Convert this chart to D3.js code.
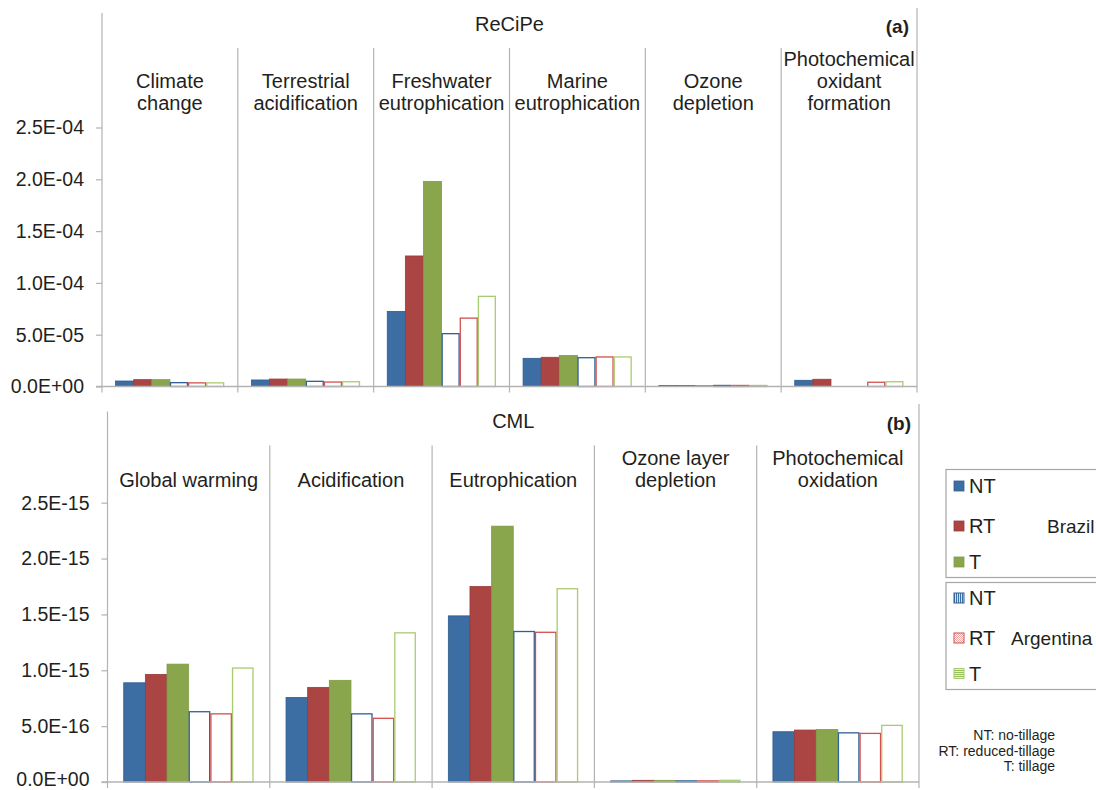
<!DOCTYPE html>
<html>
<head>
<meta charset="utf-8">
<script src="https://cdn.jsdelivr.net/npm/d3@7"></script>
<style>
  html, body { margin: 0; padding: 0; background: #fff; }
  svg text { font-family: "Liberation Sans", Arial, sans-serif; fill: #231f20; }
</style>
</head>
<body>
<svg id="chart" width="1096" height="790"></svg>
<script>
// ---------- DATA ----------
const seriesNames = ["NT Brazil", "RT Brazil", "T Brazil", "NT Argentina", "RT Argentina", "T Argentina"];

// Panel (a) ReCiPe
const recipeCategories = [
  ["Climate", "change"],
  ["Terrestrial", "acidification"],
  ["Freshwater", "eutrophication"],
  ["Marine", "eutrophication"],
  ["Ozone", "depletion"],
  ["Photochemical", "oxidant", "formation"]
];
const recipeBrNT = [5.3e-6, 6.3e-6, 7.25e-5, 2.72e-5, 1.0e-6, 6.0e-6];
const recipeBrRT = [6.6e-6, 7.2e-6, 1.26e-4, 2.82e-5, 1.0e-6, 7.0e-6];
const recipeBrT  = [6.6e-6, 7.2e-6, 1.98e-4, 3.0e-5, 1.0e-6, 0];
const recipeArNT = [3.7e-6, 5.0e-6, 5.1e-5, 2.78e-5, 1.0e-6, 0];
const recipeArRT = [3.5e-6, 4.3e-6, 6.6e-5, 2.85e-5, 1.0e-6, 4.1e-6];
const recipeArT  = [3.5e-6, 4.6e-6, 8.7e-5, 2.85e-5, 1.0e-6, 4.6e-6];
const recipeTicks = [0, 5e-5, 1e-4, 1.5e-4, 2e-4, 2.5e-4];
const recipeTickLabels = ["0.0E+00", "5.0E-05", "1.0E-04", "1.5E-04", "2.0E-04", "2.5E-04"];

// Panel (b) CML
const cmlCategories = [
  ["Global warming"],
  ["Acidification"],
  ["Eutrophication"],
  ["Ozone layer", "depletion"],
  ["Photochemical", "oxidation"]
];
const cmlBrNT = [8.88e-16, 7.57e-16, 1.487e-15, 1.0e-17, 4.5e-16];
const cmlBrRT = [9.63e-16, 8.47e-16, 1.75e-15, 1.5e-17, 4.65e-16];
const cmlBrT  = [1.055e-15, 9.1e-16, 2.29e-15, 1.5e-17, 4.7e-16];
const cmlArNT = [6.29e-16, 6.1e-16, 1.347e-15, 1.0e-17, 4.4e-16];
const cmlArRT = [6.1e-16, 5.7e-16, 1.34e-15, 1.0e-17, 4.35e-16];
const cmlArT  = [1.02e-15, 1.335e-15, 1.73e-15, 1.5e-17, 5.07e-16];
const cmlTicks = [0, 5e-16, 1e-15, 1.5e-15, 2e-15, 2.5e-15];
const cmlTickLabels = ["0.0E+00", "5.0E-16", "1.0E-15", "1.5E-15", "2.0E-15", "2.5E-15"];

const legendBrazil = ["NT", "RT", "T"];
const legendArgentina = ["NT", "RT", "T"];
const footnotes = ["NT: no-tillage", "RT: reduced-tillage", "T: tillage"];

// ---------- STYLE ----------
const fills   = ["#3d6ea3", "#aa4543", "#8aa64c", "#ffffff", "#ffffff", "#ffffff"];
const strokes = ["#2d5c8f", "#9c3b39", "#7f9c44", "#2f6096", "#d2504d", "#a9cb6f"];
const gridCol = "#b3b3b3";

const svg = d3.select("#chart");
const defs = svg.append("defs");

// patterns for Argentina legend swatches
const pV = defs.append("pattern").attr("id", "pNT").attr("width", 2).attr("height", 2).attr("patternUnits", "userSpaceOnUse");
pV.append("rect").attr("width", 2).attr("height", 2).attr("fill", "#cfe0f3");
pV.append("rect").attr("width", 1).attr("height", 2).attr("fill", "#3d6ea3");
const pD = defs.append("pattern").attr("id", "pRT").attr("width", 2).attr("height", 2).attr("patternUnits", "userSpaceOnUse");
pD.append("rect").attr("width", 2).attr("height", 2).attr("fill", "#ffffff");
pD.append("rect").attr("width", 1).attr("height", 1).attr("fill", "#e8a4a2");
pD.append("rect").attr("x", 1).attr("y", 1).attr("width", 1).attr("height", 1).attr("fill", "#e8a4a2");
const pH = defs.append("pattern").attr("id", "pT").attr("width", 2).attr("height", 2).attr("patternUnits", "userSpaceOnUse");
pH.append("rect").attr("width", 2).attr("height", 2).attr("fill", "#e3efcf");
pH.append("rect").attr("width", 2).attr("height", 1).attr("fill", "#9bbf5e");

function drawPanel(cfg) {
  const g = svg.append("g");
  const x = d3.scaleBand().domain(cfg.categories.map((d, i) => i)).range([cfg.x0, cfg.x1]).padding(0);
  const y = d3.scaleLinear().domain([0, cfg.ticks[cfg.ticks.length - 1]]).range([cfg.y0, cfg.yTop]);
  const xi = d3.scaleBand().domain(seriesNames).range([x.bandwidth() * 0.1, x.bandwidth() * 0.9]).padding(0);

  // left axis line, right border
  g.append("line").attr("x1", cfg.x0).attr("x2", cfg.x0).attr("y1", cfg.axisTop).attr("y2", cfg.y0 + 6)
    .attr("stroke", gridCol).attr("stroke-width", 1.2);
  g.append("line").attr("x1", cfg.x1).attr("x2", cfg.x1).attr("y1", cfg.rightTop).attr("y2", cfg.y0 + 6)
    .attr("stroke", gridCol).attr("stroke-width", 1.2);

  // category dividers
  cfg.categories.forEach((c, i) => {
    if (i === 0) return;
    g.append("line").attr("x1", x(i)).attr("x2", x(i)).attr("y1", cfg.divTop).attr("y2", cfg.y0 + 6)
      .attr("stroke", gridCol).attr("stroke-width", 1.2);
  });

  // y axis ticks
  const ax = d3.axisLeft(y).tickValues(cfg.ticks).tickSize(6).tickPadding(12)
    .tickFormat((d, i) => cfg.tickLabels[i]);
  const axG = g.append("g").attr("transform", `translate(${cfg.x0},0)`).call(ax);
  axG.select(".domain").remove();
  axG.selectAll(".tick line").attr("stroke", gridCol).attr("stroke-width", 1.2);
  axG.selectAll(".tick text").attr("font-size", 19.5).attr("fill", "#231f20")
    .attr("dy", (d, i) => (cfg.zeroDy != null && i === 0) ? cfg.zeroDy : "0.33em")
    .attr("font-family", '"Liberation Sans", Arial, sans-serif');

  // bars
  cfg.categories.forEach((c, i) => {
    cfg.series.forEach((vals, s) => {
      const v = vals[i];
      if (!v) return;
      const top = y(v);
      const h = Math.max(cfg.y0 - top, 0.8);
      const filled = s < 3;
      g.append("rect")
        .attr("x", x(i) + xi(seriesNames[s]) + (filled ? 0 : 0.6))
        .attr("y", cfg.y0 - h)
        .attr("width", xi.bandwidth() - (filled ? 0 : 1.2))
        .attr("height", h)
        .attr("fill", fills[s])
        .attr("stroke", strokes[s])
        .attr("stroke-width", filled ? 0.8 : 1.3);
    });
  });

  // zero baseline
  g.append("line").attr("x1", cfg.x0 - 6).attr("x2", cfg.x1).attr("y1", cfg.y0).attr("y2", cfg.y0)
    .attr("stroke", gridCol).attr("stroke-width", 1.4);

  // category labels (bottom aligned)
  cfg.categories.forEach((lines, i) => {
    const cx = x(i) + x.bandwidth() / 2;
    lines.forEach((t, k) => {
      g.append("text").attr("x", cx).attr("y", cfg.labelBase - (lines.length - 1 - k) * 22)
        .attr("text-anchor", "middle").attr("font-size", 20).text(t);
    });
  });

  // title & panel letter
  g.append("text").attr("x", (cfg.x0 + cfg.x1) / 2).attr("y", cfg.titleY).attr("text-anchor", "middle")
    .attr("font-size", 20).text(cfg.title);
  g.append("text").attr("x", cfg.x1 - 8).attr("y", cfg.titleY + 2).attr("text-anchor", "end")
    .attr("font-size", 19).attr("font-weight", "bold").text(cfg.letter);
}

drawPanel({
  categories: recipeCategories,
  series: [recipeBrNT, recipeBrRT, recipeBrT, recipeArNT, recipeArRT, recipeArT],
  ticks: recipeTicks, tickLabels: recipeTickLabels,
  x0: 102, x1: 917, y0: 386.5, yTop: 127.5,
  axisTop: 13, rightTop: 8, divTop: 48,
  labelBase: 110, titleY: 31, title: "ReCiPe", letter: "(a)"
});

drawPanel({
  categories: cmlCategories,
  series: [cmlBrNT, cmlBrRT, cmlBrT, cmlArNT, cmlArRT, cmlArT],
  ticks: cmlTicks, tickLabels: cmlTickLabels,
  x0: 107.5, x1: 919, y0: 782, yTop: 502.7,
  axisTop: 411.5, rightTop: 404, divTop: 445.5,
  labelBase: 487, titleY: 428, title: "CML", letter: "(b)",
  zeroDy: "0.18em"
});

// ---------- LEGEND ----------
const lg = svg.append("g");
lg.append("rect").attr("x", 946).attr("y", 469.5).attr("width", 200).attr("height", 108)
  .attr("fill", "none").attr("stroke", "#a6a6a6").attr("stroke-width", 1.2);
lg.append("rect").attr("x", 946).attr("y", 582.5).attr("width", 200).attr("height", 107)
  .attr("fill", "none").attr("stroke", "#a6a6a6").attr("stroke-width", 1.2);

const brY = [486, 526, 562];
const arY = [598, 638, 673.5];
legendBrazil.forEach((t, i) => {
  lg.append("rect").attr("x", 954).attr("y", brY[i] - 5).attr("width", 10).attr("height", 10)
    .attr("fill", fills[i]).attr("stroke", strokes[i]).attr("stroke-width", 0.8);
  lg.append("text").attr("x", 969).attr("y", brY[i]).attr("dy", "0.36em").attr("font-size", 20).text(t);
});
lg.append("text").attr("x", 1047).attr("y", brY[1]).attr("dy", "0.36em").attr("font-size", 19).text("Brazil");
const patIds = ["pNT", "pRT", "pT"];
legendArgentina.forEach((t, i) => {
  lg.append("rect").attr("x", 954).attr("y", arY[i] - 5).attr("width", 10).attr("height", 10)
    .attr("fill", `url(#${patIds[i]})`).attr("stroke", strokes[i + 3]).attr("stroke-width", 1);
  lg.append("text").attr("x", 969).attr("y", arY[i]).attr("dy", "0.36em").attr("font-size", 20).text(t);
});
lg.append("text").attr("x", 1011).attr("y", arY[1]).attr("dy", "0.36em").attr("font-size", 19).text("Argentina");

// footnote
const fnY = [735, 750.5, 766];
footnotes.forEach((t, i) => {
  svg.append("text").attr("x", 1055).attr("y", fnY[i]).attr("dy", "0.36em").attr("text-anchor", "end")
    .attr("font-size", 14).text(t);
});
</script>
</body>
</html>
